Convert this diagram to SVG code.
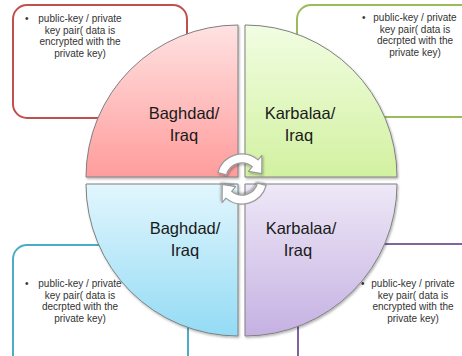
<svg xmlns="http://www.w3.org/2000/svg" width="462" height="356" viewBox="0 0 462 356">
<defs>
<linearGradient id="gRed" x1="0" y1="0" x2="0" y2="1"><stop offset="0" stop-color="#ffe2e2"/><stop offset="1" stop-color="#ff9c9c"/></linearGradient>
<linearGradient id="gGreen" x1="0" y1="0" x2="0" y2="1"><stop offset="0" stop-color="#f1fde2"/><stop offset="1" stop-color="#d2f1a0"/></linearGradient>
<linearGradient id="gBlue" x1="0" y1="0" x2="0" y2="1"><stop offset="0" stop-color="#e2f6fd"/><stop offset="1" stop-color="#93dbf5"/></linearGradient>
<linearGradient id="gPurple" x1="0" y1="0" x2="0" y2="1"><stop offset="0" stop-color="#eee8f7"/><stop offset="1" stop-color="#c5b1e2"/></linearGradient>
<filter id="sh" x="-10%" y="-10%" width="120%" height="120%"><feDropShadow dx="1" dy="1.5" stdDeviation="1.2" flood-color="#000" flood-opacity="0.3"/></filter>
</defs>
<style>
.box{fill:#fff;stroke-width:2}
.bt{font-family:"Liberation Sans",Arial,sans-serif;font-size:10px;fill:#333;text-anchor:middle}
.bl{font-family:"Liberation Sans",Arial,sans-serif;font-size:10px;fill:#333}
.q{stroke:#808080;stroke-width:1;filter:url(#sh)}
.ql{font-family:"Liberation Sans",Arial,sans-serif;font-size:16.5px;fill:#1a1a1a;text-anchor:middle}
.arr{fill:#ffffff;stroke:#9a9a9a;stroke-width:1.2;stroke-linejoin:round;filter:url(#sh)}
</style>
<rect width="462" height="356" fill="#fff"/>

<g id="box-top-left">
<rect class="box" x="13" y="5" width="174" height="113" rx="14" stroke="#c0504d"/>
<text class="bl" x="25" y="22">•</text>
<text class="bt" x="80" y="22">public-key / private</text>
<text class="bt" x="80" y="33.5">key pair( data is</text>
<text class="bt" x="80" y="45">encrypted with the</text>
<text class="bt" x="80" y="56.5">private key)</text>
</g>

<g id="box-top-right">
<rect class="box" x="297" y="5" width="200" height="112" rx="14" stroke="#9bbb59"/>
<text class="bl" x="362" y="21">•</text>
<text class="bt" x="415" y="21">public-key / private</text>
<text class="bt" x="415" y="32.5">key pair( data is</text>
<text class="bt" x="415" y="44">decrpted with the</text>
<text class="bt" x="415" y="55.5">private key)</text>
</g>

<g id="box-bottom-left">
<rect class="box" x="13" y="245" width="175" height="130" rx="14" stroke="#4bacc6"/>
<text class="bl" x="25" y="287">•</text>
<text class="bt" x="80" y="287">public-key / private</text>
<text class="bt" x="80" y="298.5">key pair( data is</text>
<text class="bt" x="80" y="310">decrpted with the</text>
<text class="bt" x="80" y="321.5">private key)</text>
</g>

<g id="box-bottom-right">
<rect class="box" x="298" y="244" width="200" height="130" rx="14" stroke="#8064a2"/>
<text class="bl" x="361" y="287">•</text>
<text class="bt" x="413" y="287">public-key / private</text>
<text class="bt" x="413" y="298.5">key pair( data is</text>
<text class="bt" x="413" y="310">encrypted with the</text>
<text class="bt" x="413" y="321.5">private key)</text>
</g>

<g id="quadrant-baghdad-top">
<path class="q" d="M238,177 L238,25 A152,152 0 0 0 86,177 Z" fill="url(#gRed)"/>
<text class="ql" x="184" y="119">Baghdad/</text>
<text class="ql" x="184" y="141">Iraq</text>
</g>
<g id="quadrant-karbalaa-top">
<path class="q" d="M245,177 L397,177 A152,152 0 0 0 245,25 Z" fill="url(#gGreen)"/>
<text class="ql" x="300" y="119">Karbalaa/</text>
<text class="ql" x="299" y="141">Iraq</text>
</g>
<g id="quadrant-baghdad-bottom">
<path class="q" d="M238,184 L86,184 A152,152 0 0 0 238,336 Z" fill="url(#gBlue)"/>
<text class="ql" x="185" y="234">Baghdad/</text>
<text class="ql" x="185" y="256">Iraq</text>
</g>
<g id="quadrant-karbalaa-bottom">
<path class="q" d="M245,184 L245,336 A152,152 0 0 0 397,184 Z" fill="url(#gPurple)"/>
<text class="ql" x="301" y="234">Karbalaa/</text>
<text class="ql" x="298" y="256">Iraq</text>
</g>

<g id="connectors">
<path id="arrow-upper" class="arr" d="M217.9,172.5 A25,25 0 0 1 258.1,159.9 L261.9,155.3 L261.8,173.7 L248.4,171.3 L252.3,166.7 A16,16 0 0 0 226.5,174.9 Z"/>
<path id="arrow-lower" class="arr" transform="rotate(180 242 179)" d="M217.9,172.5 A25,25 0 0 1 258.1,159.9 L261.9,155.3 L261.8,173.7 L248.4,171.3 L252.3,166.7 A16,16 0 0 0 226.5,174.9 Z"/>
</g>
</svg>
